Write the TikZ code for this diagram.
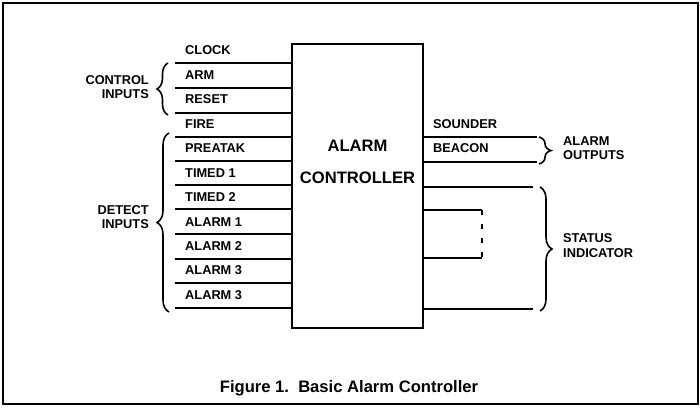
\documentclass[tikz,border=0pt]{standalone}
\usepackage{fontspec}
\setmainfont{Liberation Sans}
\usetikzlibrary{decorations.pathreplacing}
\begin{document}
\begin{tikzpicture}[x=1pt,y=-1pt,
  wire/.style={line width=1.7pt},
  lbl/.style={font=\fontsize{12.8}{14}\selectfont\bfseries, inner sep=0pt},
  big/.style={font=\fontsize{16.6}{18}\selectfont\bfseries, inner sep=0pt},
  brc/.style={decorate, decoration={brace, amplitude=#1}, line width=1.6pt},
]
\useasboundingbox (0,0) rectangle (700,407);
\draw[line width=1.6pt] (3,3) rectangle (698,404);
% controller box
\node[draw, line width=2.2pt, minimum width=131pt, minimum height=284pt, inner sep=0pt] (ctrl) at (357.5,186) {};
\node[big] (tA) at (357.5,146) {ALARM};
\node[big] (tC) at (357.5,178) {CONTROLLER};
% inputs
\foreach \y [count=\i] in {63,88,113,137,161,185,209,234,259,283,308}{
  \coordinate (in\i) at (175,\y);
  \draw[wire] (in\i) -- (in\i -| ctrl.west);
}
\foreach \t/\y [count=\i] in {CLOCK/50,ARM/75,RESET/99,FIRE/124,PREATAK/148,TIMED 1/173,TIMED 2/197,ALARM 1/222,ALARM 2/246,ALARM 3/270,ALARM 3/295}{
  \node[lbl, anchor=west] (l\i) at (185,\y) {\t};
}
% input braces
\draw[brc=11] (168,115) -- (168,63);
\draw[brc=12] (169,312) -- (169,133);
\node[lbl, anchor=east] (ci1) at (149,80) {CONTROL};
\node[lbl, anchor=east] (ci2) at (149,94) {INPUTS};
\node[lbl, anchor=east] (di1) at (149,210) {DETECT};
\node[lbl, anchor=east] (di2) at (149,224) {INPUTS};
% outputs
\coordinate (o1) at (537,137);
\coordinate (o2) at (537,162);
\coordinate (o3) at (533,187);
\coordinate (o4) at (533,309);
\coordinate (lp1) at (482,210);
\coordinate (lp2) at (482,258);
\foreach \c in {o1,o2,o3,o4}{
  \draw[wire] (ctrl.east |- \c) -- (\c);
}
\draw[wire] (ctrl.east |- lp1) -- (lp1);
\draw[wire] (ctrl.east |- lp2) -- (lp2);
\draw[wire, dash pattern=on 5pt off 9pt] (lp1) -- (lp2);
\node[lbl, anchor=west] (so) at (433,124) {SOUNDER};
\node[lbl, anchor=west] (be) at (433,148) {BEACON};
% output braces
\draw[brc=12] (539,137) -- (539,164);
\draw[brc=12] (540,187) -- (540,311);
\node[lbl, anchor=west] (ao1) at (563,141) {ALARM};
\node[lbl, anchor=west] (ao2) at (563,155) {OUTPUTS};
\node[lbl, anchor=west] (si1) at (563,238) {STATUS};
\node[lbl, anchor=west] (si2) at (563,253) {INDICATOR};
% caption
\node[font=\fontsize{16.6}{18}\selectfont\bfseries, inner sep=0pt] (cap) at (349,388) {Figure 1.\ \ Basic Alarm Controller};
\end{tikzpicture}
\end{document}
